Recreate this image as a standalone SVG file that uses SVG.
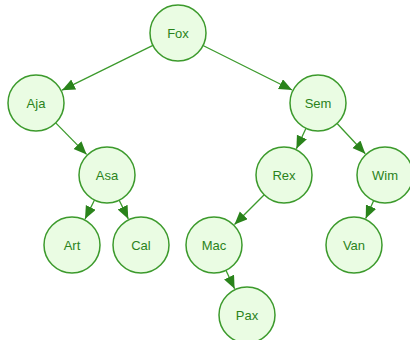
<svg xmlns="http://www.w3.org/2000/svg" width="410" height="340" viewBox="0 0 410 340">
  <style>
    .node circle { fill: #eafce3; stroke: #3c9a2c; stroke-width: 1.5; }
    .node text { font-family: "Liberation Sans", Arial, sans-serif; font-size: 13px; fill: #2a831b; text-anchor: middle; dominant-baseline: central; }
    .edge { stroke: #3c9a2c; stroke-width: 1.3; fill: none; marker-end: url(#arrow); }
  </style>
  <defs>
    <marker id="arrow" markerUnits="userSpaceOnUse" markerWidth="14" markerHeight="12" refX="13" refY="5.5" orient="auto">
      <path d="M0,0 L13,5.5 L0,11 z" fill="#2a831b"/>
    </marker>
  </defs>
  <rect width="410" height="340" fill="#ffffff"/>
  <g id="connectors">
    <line class="edge" x1="152.9" y1="45.4" x2="62.0" y2="90.2"/>
    <line class="edge" x1="203.0" y1="45.5" x2="292.1" y2="90.0"/>
    <line class="edge" x1="55.7" y1="122.9" x2="86.6" y2="154.4"/>
    <line class="edge" x1="94.5" y1="200.0" x2="85.0" y2="219.1"/>
    <line class="edge" x1="119.2" y1="200.2" x2="128.3" y2="218.9"/>
    <line class="edge" x1="306.0" y1="128.3" x2="296.4" y2="148.8"/>
    <line class="edge" x1="337.1" y1="123.5" x2="365.3" y2="153.8"/>
    <line class="edge" x1="264.2" y1="194.8" x2="234.5" y2="224.5"/>
    <line class="edge" x1="225.9" y1="270.3" x2="234.6" y2="288.8"/>
    <line class="edge" x1="373.7" y1="200.6" x2="365.7" y2="218.5"/>
  </g>
  <g id="fox" class="node"><circle cx="178" cy="33" r="28"/><text x="178" y="33">Fox</text></g>
  <g id="aja" class="node"><circle cx="36" cy="103" r="28"/><text x="36" y="103">Aja</text></g>
  <g id="sem" class="node"><circle cx="318" cy="103" r="28"/><text x="318" y="103">Sem</text></g>
  <g id="asa" class="node"><circle cx="107" cy="175" r="28"/><text x="107" y="175">Asa</text></g>
  <g id="rex" class="node"><circle cx="284" cy="175" r="28"/><text x="284" y="175">Rex</text></g>
  <g id="wim" class="node"><circle cx="385" cy="175" r="28"/><text x="385" y="175">Wim</text></g>
  <g id="art" class="node"><circle cx="72" cy="245" r="28"/><text x="72" y="245">Art</text></g>
  <g id="cal" class="node"><circle cx="141" cy="245" r="28"/><text x="141" y="245">Cal</text></g>
  <g id="mac" class="node"><circle cx="214" cy="245" r="28"/><text x="214" y="245">Mac</text></g>
  <g id="van" class="node"><circle cx="354" cy="245" r="28"/><text x="354" y="245">Van</text></g>
  <g id="pax" class="node"><circle cx="247" cy="315" r="28"/><text x="247" y="315">Pax</text></g>
</svg>
